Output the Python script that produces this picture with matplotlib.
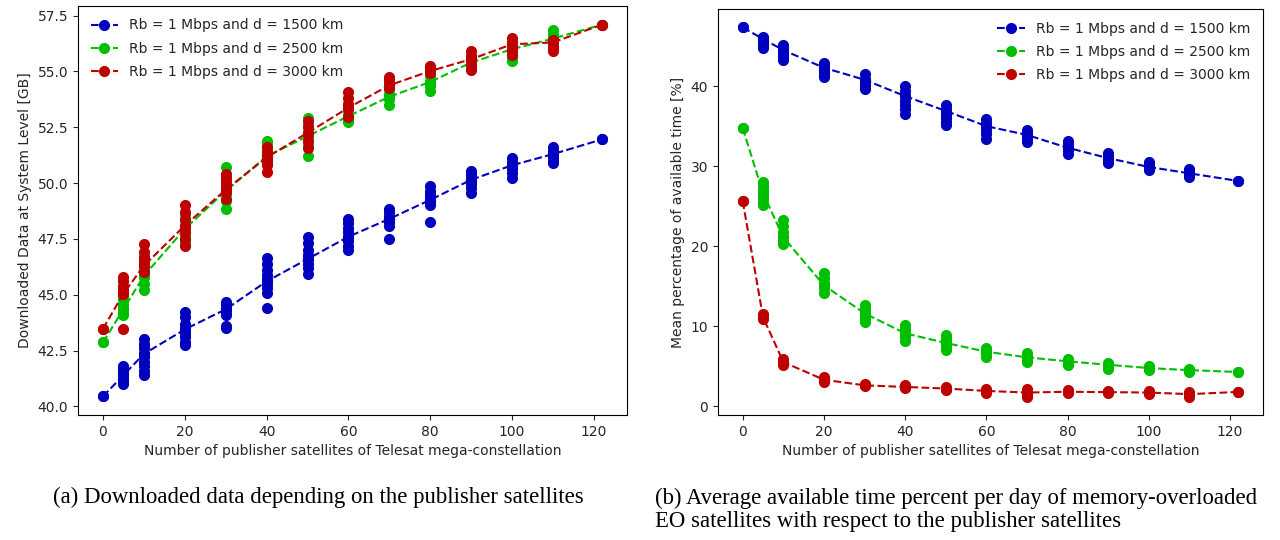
"""Downloaded data and available time vs publisher satellites (Telesat)"""
import numpy as np
import matplotlib
matplotlib.use("Agg")
import matplotlib.pyplot as plt

plt.rcParams['font.family'] = ['DejaVu Sans']
plt.rcParams['text.color'] = '#262626'
plt.rcParams['axes.labelcolor'] = '#262626'
plt.rcParams['xtick.color'] = '#262626'
plt.rcParams['ytick.color'] = '#262626'

BLUE = '#0000be'
GREEN = '#00be00'
RED = '#be0000'

X = [0, 5, 10, 20, 30, 40, 50, 60, 70, 80, 90, 100, 110, 122]
LABELS = ['Rb = 1 Mbps and d = 1500 km',
          'Rb = 1 Mbps and d = 2500 km',
          'Rb = 1 Mbps and d = 3000 km']

# (a) downloaded data [GB], one list of runs per x value
data_1500 = [
    [40.45],
    [41.8, 41.7, 41.6, 41.5, 41.4, 41.3, 41.2, 41.1, 41.0],
    [43.0, 42.8, 42.6, 42.4, 42.2, 42.0, 41.8, 41.6, 41.4],
    [44.25, 44.0, 43.7, 43.5, 43.3, 43.1, 42.9, 42.75],
    [44.7, 44.55, 44.4, 44.25, 44.1, 43.6, 43.5],
    [46.65, 46.4, 46.1, 45.9, 45.7, 45.5, 45.3, 45.1, 44.4],
    [47.6, 47.3, 47.0, 46.8, 46.6, 46.4, 46.2, 45.95],
    [48.4, 48.2, 48.0, 47.8, 47.6, 47.4, 47.2, 47.0],
    [48.85, 48.7, 48.55, 48.4, 48.25, 48.1, 47.5],
    [49.85, 49.65, 49.5, 49.35, 49.15, 49.0, 48.25],
    [50.55, 50.4, 50.25, 50.1, 49.95, 49.8, 49.55],
    [51.13, 50.95, 50.8, 50.65, 50.45, 50.25],
    [51.64, 51.45, 51.3, 51.15, 51.0, 50.89],
    [51.96],
]
data_2500 = [
    [42.87],
    [45.2, 45.0, 44.8, 44.6, 44.4, 44.2, 44.1],
    [46.7, 46.4, 46.1, 45.8, 45.5, 45.2],
    [48.6, 48.3, 48.0, 47.7, 47.5, 47.3],
    [50.74, 50.3, 49.9, 49.5, 49.2, 48.83],
    [51.9, 51.7, 51.5, 51.3, 51.1, 50.9],
    [52.9, 52.6, 52.3, 52.0, 51.7, 51.2],
    [53.5, 53.3, 53.1, 52.9, 52.76],
    [54.45, 54.2, 54.0, 53.75, 53.5],
    [55.05, 54.8, 54.55, 54.35, 54.13],
    [55.7, 55.5, 55.35, 55.2],
    [55.95, 55.75, 55.6, 55.45],
    [56.84, 56.7, 56.5],
    [57.1],
]
data_3000 = [
    [43.48],
    [45.78, 45.6, 45.4, 45.2, 45.06, 43.48],
    [47.27, 46.9, 46.7, 46.5, 46.3, 46.0],
    [49.0, 48.7, 48.4, 48.1, 47.8, 47.5, 47.2],
    [50.4, 50.2, 50.0, 49.8, 49.6, 49.3],
    [51.6, 51.4, 51.2, 51.0, 50.8, 50.5],
    [52.8, 52.5, 52.2, 51.9, 51.56],
    [54.08, 53.8, 53.55, 53.3, 52.98],
    [54.75, 54.6, 54.4, 54.25],
    [55.23, 55.1, 54.93],
    [55.92, 55.7, 55.5, 55.3, 55.07],
    [56.5, 56.3, 56.1, 55.9, 55.75],
    [56.4, 56.2, 56.05, 55.9],
    [57.1],
]
mean_1500 = [40.45, 41.4, 42.35, 43.45, 44.35, 45.6, 46.6, 47.6, 48.4, 49.25, 50.15, 50.8, 51.3, 51.96]
mean_2500 = [42.87, 44.35, 45.85, 47.95, 49.65, 51.2, 52.1, 53.0, 53.87, 54.53, 55.4, 56.0, 56.47, 57.1]
mean_3000 = [43.48, 45.05, 46.3, 48.1, 49.7, 51.15, 52.25, 53.38, 54.38, 55.02, 55.55, 56.22, 56.3, 57.1]

# (b) mean percentage of available time [%]
time_1500 = [
    [47.34],
    [46.1, 45.9, 45.7, 45.5, 45.3, 45.1, 44.8],
    [45.2, 44.9, 44.6, 44.3, 44.0, 43.7, 43.3],
    [42.9, 42.6, 42.3, 42.0, 41.7, 41.4, 41.2],
    [41.5, 40.9, 40.5, 40.2, 39.9, 39.7],
    [40.0, 39.4, 38.8, 38.2, 37.7, 37.1, 36.5],
    [37.6, 37.2, 36.8, 36.4, 36.0, 35.5, 35.1],
    [35.9, 35.4, 35.0, 34.5, 34.0, 33.4],
    [34.5, 34.1, 33.8, 33.4, 33.0],
    [33.2, 32.8, 32.4, 32.0, 31.5],
    [31.7, 31.3, 31.0, 30.7, 30.4],
    [30.5, 30.2, 29.9, 29.5],
    [29.7, 29.3, 28.9, 28.6],
    [28.15],
]
time_2500 = [
    [34.74],
    [28.0, 27.5, 27.0, 26.5, 26.0, 25.5, 25.2],
    [23.3, 22.5, 21.8, 21.2, 20.7, 20.3],
    [16.6, 16.0, 15.4, 14.8, 14.2],
    [12.7, 12.1, 11.5, 11.0, 10.5],
    [10.1, 9.6, 9.1, 8.6, 8.2],
    [8.85, 8.4, 8.0, 7.5, 7.0],
    [7.3, 7.0, 6.6, 6.2],
    [6.7, 6.3, 5.9, 5.5],
    [5.9, 5.6, 5.3, 5.1],
    [5.45, 5.1, 4.7],
    [5.0, 4.75, 4.5],
    [4.7, 4.5, 4.3],
    [4.27],
]
time_3000 = [
    [25.6],
    [11.5, 11.2, 10.9],
    [5.9, 5.5, 5.2],
    [3.6, 3.3, 3.0],
    [2.8, 2.6, 2.5],
    [2.6, 2.4, 2.3],
    [2.35, 2.2, 2.0],
    [2.1, 1.9, 1.7],
    [2.1, 1.7, 1.4, 1.2],
    [2.0, 1.8, 1.65],
    [1.95, 1.75, 1.6],
    [1.9, 1.7, 1.55],
    [1.8, 1.5, 1.2],
    [1.78],
]
tmean_1500 = [47.34, 45.9, 44.5, 42.3, 40.8, 38.75, 36.9, 35.0, 33.9, 32.3, 31.0, 29.9, 29.1, 28.15]
tmean_2500 = [34.74, 26.6, 21.1, 15.1, 11.6, 9.1, 7.9, 6.8, 6.1, 5.6, 5.17, 4.76, 4.5, 4.27]
tmean_3000 = [25.6, 11.1, 5.5, 3.3, 2.6, 2.4, 2.2, 1.9, 1.7, 1.8, 1.75, 1.7, 1.5, 1.78]


def draw(ax, runs, means, color, label):
    for x, vals in zip(X, runs):
        ax.plot(np.full(len(vals), x), vals, 'o', color=color, ms=7)
    ax.plot(X, means, 'o--', color=color, ms=7, lw=1.5, label=label)


fig = plt.figure(figsize=(12.8, 5.4), dpi=100)
ax1 = fig.add_axes([78 / 1280, 125 / 540, 549 / 1280, 409 / 540])
ax2 = fig.add_axes([718 / 1280, 125 / 540, 545 / 1280, 406 / 540])

draw(ax1, data_1500, mean_1500, BLUE, LABELS[0])
draw(ax1, data_2500, mean_2500, GREEN, LABELS[1])
draw(ax1, data_3000, mean_3000, RED, LABELS[2])
ax1.set_xlabel('Number of publisher satellites of Telesat mega-constellation')
ax1.set_ylabel('Downloaded Data at System Level [GB]')
ax1.set_xticks([0, 20, 40, 60, 80, 100, 120])
ax1.set_yticks([40.0, 42.5, 45.0, 47.5, 50.0, 52.5, 55.0, 57.5])
ax1.legend(loc='upper left', frameon=False, labelspacing=0.65)

draw(ax2, time_1500, tmean_1500, BLUE, LABELS[0])
draw(ax2, time_2500, tmean_2500, GREEN, LABELS[1])
draw(ax2, time_3000, tmean_3000, RED, LABELS[2])
ax2.set_xlabel('Number of publisher satellites of Telesat mega-constellation')
ax2.set_ylabel('Mean percentage of available time [%]')
ax2.set_xticks([0, 20, 40, 60, 80, 100, 120])
ax2.set_yticks([0, 10, 20, 30, 40])
ax2.legend(loc='upper right', frameon=False, labelspacing=0.65)

cap = dict(family=['Liberation Serif', 'DejaVu Serif'], fontsize=16.4, color='black')
fig.text(318 / 1280, 1 - 497 / 540, '(a) Downloaded data depending on the publisher satellites',
         ha='center', va='center', **cap)
fig.text(655 / 1280, 1 - 498 / 540,
         '(b) Average available time percent per day of memory-overloaded',
         ha='left', va='center', **cap)
fig.text(655 / 1280, 1 - 522 / 540, 'EO satellites with respect to the publisher satellites',
         ha='left', va='center', **cap)

fig.savefig('out.png', dpi=100)
